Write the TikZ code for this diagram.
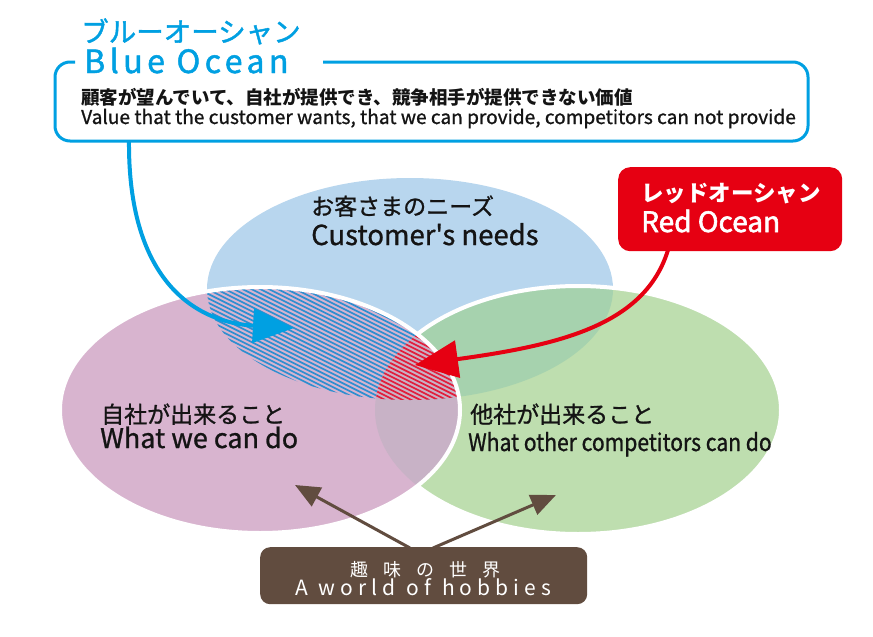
\documentclass[tikz,border=0pt]{standalone}
\usepackage{fontspec}
\setmainfont{Noto Sans CJK JP}[Ligatures=TeXOff]
\usetikzlibrary{arrows.meta}
\definecolor{oblue}{RGB}{0,160,226}
\definecolor{ored}{RGB}{230,0,18}
\definecolor{obrown}{RGB}{97,76,63}
\definecolor{ecblue}{RGB}{184,214,238}
\definecolor{ecpink}{RGB}{216,180,207}
\definecolor{ecgreen}{RGB}{190,222,175}
\definecolor{ecbg}{RGB}{166,210,174}
\definecolor{ecpg}{RGB}{200,178,198}
\definecolor{hblue}{RGB}{46,143,208}
\definecolor{hred}{RGB}{226,30,60}
\definecolor{txt}{RGB}{20,20,20}
\tikzset{
  lbl/.style={inner sep=0pt, anchor=base west, text=txt},
  hatchb/.style={draw=hblue, line width=1.7pt},
  hatchr/.style={draw=hred, line width=1.7pt},
  wline/.style={draw=white, line width=4pt},
  bluearrow/.style={draw=oblue, line width=4pt, -{Triangle[length=41pt,width=34pt]}},
  redarrow/.style={draw=ored, line width=4pt, -{Triangle[length=43pt,width=37pt]}},
  brownarrow/.style={draw=obrown, line width=3pt, -{Triangle[length=25pt,width=21pt]}},
  rbox/.style={fill=ored, rounded corners=12pt, inner sep=0pt},
  hbox/.style={fill=obrown, rounded corners=10pt, inner sep=0pt},
}
\newcommand{\blueE}{(410,289) ellipse [x radius=203pt, y radius=111pt]}
\newcommand{\pinkE}{(260,410) ellipse [x radius=200pt, y radius=123pt]}
\newcommand{\greenE}{(578,410) ellipse [x radius=203pt, y radius=124pt]}
\newcommand{\fsz}[2]{\fontsize{#1pt}{#1pt}\selectfont\addfontfeature{FakeBold=#2}}
\newcommand{\lsp}{\hspace{5pt}}
\newcommand{\wsp}{\hspace{11pt}}
\begin{document}
\begin{tikzpicture}[x=1pt,y=-1pt]
\useasboundingbox (0,0) rectangle (873,637);
\fill[white] (0,0) rectangle (873,637);
% ellipses
\fill[ecblue] \blueE;
\fill[ecgreen] \greenE;
\begin{scope}
  \clip \blueE;
  \fill[ecbg] \greenE;
\end{scope}
\draw[wline] \greenE;
\fill[ecpink] \pinkE;
\begin{scope}
  \clip \pinkE;
  \fill[ecpg] \greenE;
\end{scope}
% blue hatching
\begin{scope}
  \clip \blueE;
  \clip \pinkE;
  \foreach \c in {80,84.4,...,440} \draw[hatchb] (150,\c) -- ++(400,200);
\end{scope}
% red hatching
\begin{scope}
  \clip \blueE;
  \clip \pinkE;
  \clip \greenE;
  \fill[ecpg] (300,250) rectangle (500,420);
  \foreach \c in {80,84.4,...,440} \draw[hatchr] (150,\c) -- ++(400,200);
\end{scope}
\draw[wline] \pinkE;
% blue box
\draw[oblue, line width=3pt, rounded corners=15pt] (75,62) -- (55,62) -- (55,141) -- (808,141) -- (808,62) -- (323,62);
\node[lbl, text=oblue, font=\fsz{27.5}{1.5}] (bj) at (81,42) {ブルーオーシャン};
\node[lbl, text=oblue, font=\fsz{32}{1.5}\addfontfeature{LetterSpace=14}] (be) at (84,73) {Blue Ocean};
\node[lbl, font=\fontsize{18.5pt}{18.5pt}\selectfont\bfseries] (dj) at (81,104) {顧客が望んでいて、自社が提供でき、競争相手が提供できない価値};
\node[lbl, font=\fsz{19.1}{1}] (de) at (81,124) {Value that the customer wants, that we can provide, competitors can not provide};
\coordinate (bstart) at (129,141);
\coordinate (btip) at (294,328);
% red box
\node[rbox, minimum width=224pt, minimum height=84pt, anchor=north west] (rb) at (618,167) {};
\node[lbl, text=white, font=\fontsize{22.5pt}{22.5pt}\selectfont\bfseries] (rj) at (641,201) {レッドオーシャン};
\node[lbl, text=white, font=\fsz{28}{2}] (re) at (641,232) {Red Ocean};
\coordinate (rstart) at (668,250);
\coordinate (rtip) at (415,365);
% ellipse labels
\node[lbl, font=\fsz{23}{1}] (cj) at (311,215) {お客さまのニーズ};
\node[lbl, font=\fsz{27.5}{1}] (ce) at (311,245) {Customer's needs};
\node[lbl, font=\fsz{23}{1}] (wj) at (101,423) {自社が出来ること};
\node[lbl, font=\fsz{27}{1}] (we) at (100,448) {What we can do};
\node[lbl, font=\fsz{23}{1}] (oj) at (470,423) {他社が出来ること};
\node[lbl, font=\fsz{24}{1}] (oe) at (468,451) {\scalebox{0.88}[1]{What other competitors can do}};
% hobbies box
\node[hbox, minimum width=327pt, minimum height=57pt, anchor=north west] (hb) at (260,547) {};
\node[lbl, text=white, font=\fontsize{18pt}{18pt}\selectfont] (hj) at (350,576) {趣\hspace{15pt}味\hspace{15pt}の\hspace{15pt}世\hspace{15pt}界};
\node[lbl, text=white, font=\fontsize{21pt}{21pt}\selectfont] (he) at (295,595) {A\wsp w\lsp o\lsp r\lsp l\lsp d\wsp o\lsp f\wsp h\lsp o\lsp b\lsp b\lsp i\lsp e\lsp s};
\coordinate (hs1) at (410,548);
\coordinate (hs2) at (433,548);
\coordinate (ht1) at (295,485);
\coordinate (ht2) at (556,495);
% arrows
\draw[bluearrow] (bstart) .. controls (128,275) and (190,322) .. (btip);
\draw[redarrow] (rstart) .. controls (645,325) and (560,345) .. (rtip);
\draw[brownarrow] (hs1) -- (ht1);
\draw[brownarrow] (hs2) -- (ht2);
\end{tikzpicture}
\end{document}
